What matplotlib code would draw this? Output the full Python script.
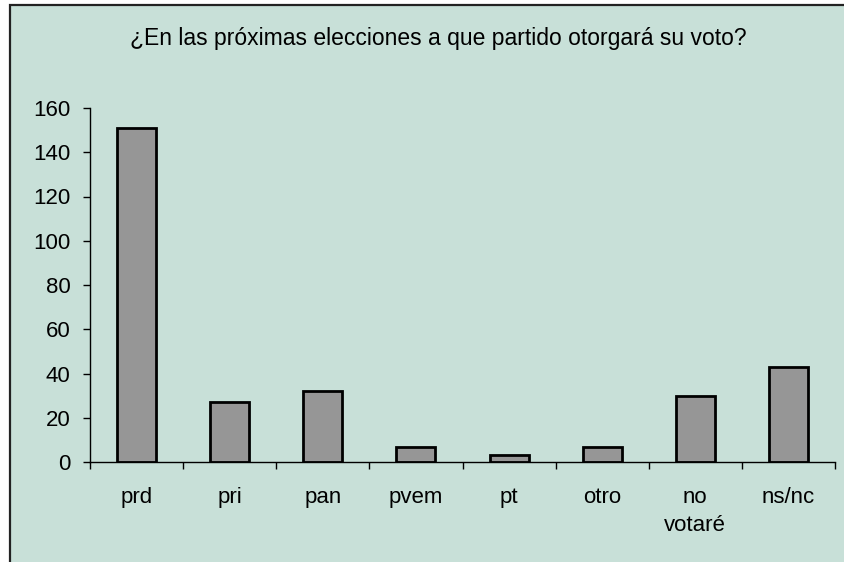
import matplotlib.pyplot as plt
from matplotlib.patches import Rectangle

categorias = ["prd", "pri", "pan", "pvem", "pt", "otro", "no\nvotaré", "ns/nc"]
votos = [151, 27, 32, 7, 3, 7, 30, 43]
titulo = "¿En las próximas elecciones a que partido otorgará su voto?"

plt.rcParams["font.family"] = ["Liberation Sans", "DejaVu Sans"]
fondo = "#c8e0d8"

fig = plt.figure(figsize=(8.44, 5.62), dpi=100)
fig.patch.set_facecolor("white")
# area del grafico (borde izquierdo y superior visibles)
fig.patches.append(Rectangle((10 / 844, -0.1), 1.2, 1.1 - 5 / 562,
                             transform=fig.transFigure, facecolor=fondo,
                             edgecolor="#222222", linewidth=1.6, zorder=-5))

ax = fig.add_axes([90 / 844, 100 / 562, 745 / 844, 354 / 562])
ax.set_facecolor("none")
x = range(len(categorias))
ax.bar(x, votos, width=0.42, color="#969696", edgecolor="black", linewidth=2)

ax.set_xlim(-0.5, len(categorias) - 0.5)
ax.set_ylim(0, 160)
ax.set_yticks(range(0, 161, 20))
ax.set_xticks([i - 0.5 for i in range(len(categorias) + 1)])
ax.set_xticklabels([])
ax.set_xticks(list(x), minor=True)
ax.set_xticklabels(categorias, minor=True, linespacing=1.45)
ax.tick_params(axis="x", which="minor", length=0, pad=18, labelsize=16)
ax.tick_params(axis="x", which="major", length=5, width=1)
ax.tick_params(axis="y", length=5, width=1, pad=9, labelsize=16)

for lado in ["top", "right"]:
    ax.spines[lado].set_visible(False)
ax.spines["left"].set_linewidth(1)
ax.spines["bottom"].set_linewidth(1)

fig.text(438 / 844, 1 - 38 / 562, titulo, ha="center", va="center", fontsize=16.5)

fig.savefig("out.png", dpi=100, facecolor=fig.get_facecolor())
